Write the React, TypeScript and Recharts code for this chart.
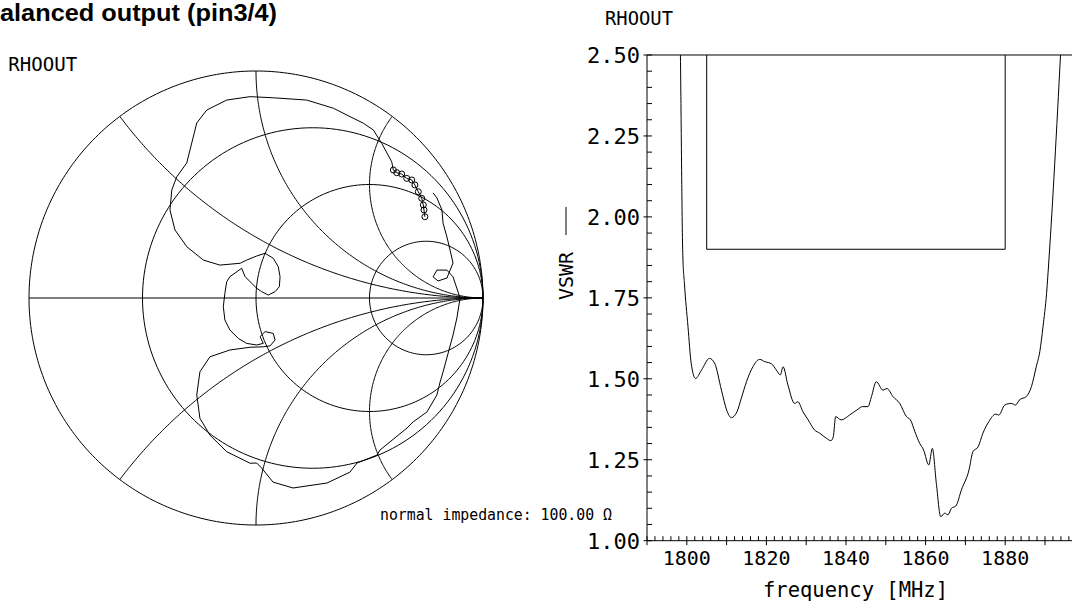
import React from 'react';
import { LineChart, Line, XAxis, YAxis, ReferenceLine } from 'recharts';

// RHOOUT locus on the Smith chart (reflection coefficient, real / imaginary part)
const locusRe = [
  0.744, 0.740, 0.737, 0.730, 0.715, 0.700, 0.686, 0.664, 0.642, 0.620, 0.605,
  0.598, 0.554, 0.517, 0.473, 0.414, 0.341, 0.223, 0.076, -0.026,
  -0.129, -0.217, -0.261, -0.283, -0.305, -0.349, -0.371, -0.379, -0.357, -0.305, -0.232, -0.159, -0.070,
  -0.041, 0.003, 0.040, 0.076, 0.098, 0.106, 0.103, 0.084, 0.054, 0.025, 0.003, -0.019, -0.048, -0.063,
  -0.115, -0.129, -0.137, -0.144, -0.137, -0.115, -0.078, -0.041, 0.003,
  0.032, 0.018, 0.040, 0.076, 0.084, 0.062, 0.032, -0.026,
  -0.115, -0.203, -0.247, -0.261, -0.247, -0.203, -0.129, -0.026,
  0.003, 0.025, 0.075, 0.163, 0.313, 0.414, 0.445, 0.533, 0.546,
  0.665, 0.692, 0.753, 0.797, 0.811, 0.824, 0.868, 0.885, 0.899,
  0.877, 0.868, 0.841, 0.797, 0.780, 0.802, 0.841,
  0.868, 0.855, 0.841, 0.824, 0.819, 0.797, 0.780,
];
const locusIm = [
  0.358, 0.388, 0.410, 0.439, 0.468, 0.498, 0.520, 0.527, 0.546, 0.552, 0.564,
  0.600, 0.681, 0.740, 0.770, 0.799, 0.836, 0.872, 0.882, 0.887,
  0.872, 0.828, 0.771, 0.683, 0.595, 0.534, 0.476, 0.388, 0.300, 0.226, 0.167, 0.145, 0.153,
  0.167, 0.185, 0.197, 0.175, 0.138, 0.094, 0.050, 0.028, 0.013, 0.028, 0.043, 0.065, 0.094, 0.131,
  0.094, 0.072, 0.021, -0.038, -0.097, -0.141, -0.178, -0.200, -0.207,
  -0.200, -0.170, -0.148, -0.156, -0.185, -0.211, -0.215, -0.217,
  -0.229, -0.259, -0.325, -0.427, -0.530, -0.604, -0.677, -0.728,
  -0.727, -0.749, -0.811, -0.837, -0.815, -0.767, -0.727, -0.692, -0.670,
  -0.573, -0.546, -0.502, -0.427, -0.370, -0.326, -0.163, -0.088, 0,
  0.066, 0.093, 0.123, 0.123, 0.093, 0.075, 0.088,
  0.154, 0.211, 0.269, 0.330, 0.388, 0.441, 0.463,
];
// the first points of the locus carry circle markers
const markerCount = 11;

// Smith chart grid
const resistanceCircles = [1 / 3, 1, 3];
const reactanceArcs = [0.5, 1, 2, -0.5, -1, -2];

// VSWR vs frequency
const freqMHz = [
  1798.0, 1798.4, 1799.0, 1799.4, 1800.3, 1801.1, 1802.2, 1803.7, 1805.7, 1807.0,
  1808.7, 1810.0, 1811.2, 1812.6, 1813.7, 1815.0, 1816.6, 1818.3, 1819.6, 1821.3,
  1822.5, 1823.5, 1824.2, 1825.4, 1827.1, 1827.9, 1829.2, 1830.5, 1832.1, 1833.4,
  1835.1, 1836.2, 1836.8, 1837.4, 1838.8, 1840.9, 1843.0, 1844.1, 1845.5, 1846.4,
  1847.6, 1849.3, 1850.3, 1851.8, 1853.5, 1855.2, 1856.2, 1857.3, 1858.5, 1859.5,
  1860.8, 1861.7, 1862.7, 1863.8, 1864.8, 1865.6, 1866.5, 1867.6, 1869.0, 1870.9,
  1871.9, 1873.2, 1874.4, 1875.9, 1877.6, 1878.4, 1879.9, 1881.5, 1882.6, 1883.6,
  1885.3, 1886.6, 1887.8, 1888.7, 1889.5, 1890.4, 1891.0, 1893.9, 1894.4,
];
const vswr = [
  2.92, 2.50, 1.88, 1.795, 1.661, 1.548, 1.501, 1.527, 1.563, 1.548,
  1.465, 1.404, 1.380, 1.398, 1.440, 1.491, 1.537, 1.560, 1.553, 1.546,
  1.527, 1.512, 1.537, 1.481, 1.424, 1.429, 1.398, 1.373, 1.342, 1.332,
  1.316, 1.309, 1.321, 1.383, 1.373, 1.388, 1.406, 1.414, 1.414, 1.445,
  1.491, 1.465, 1.470, 1.445, 1.424, 1.383, 1.373, 1.337, 1.301, 1.280,
  1.234, 1.285, 1.177, 1.074, 1.085, 1.080, 1.100, 1.107, 1.157, 1.218,
  1.275, 1.290, 1.332, 1.368, 1.391, 1.388, 1.419, 1.424, 1.419, 1.435,
  1.445, 1.476, 1.537, 1.584, 1.661, 1.764, 1.870, 2.500, 2.620,
];
// spec mask
const maskFreq = [1805, 1805, 1880, 1880];
const maskVswr = [2.5, 1.9, 1.9, 2.5];

const freqLabels = [1800, 1820, 1840, 1860, 1880];
const vswrLabels = ['1.00', '1.25', '1.50', '1.75', '2.00', '2.25', '2.50'];

const MONO = '"DejaVu Sans Mono", monospace';

type Pt = { re: number; im: number };

function arc(cx: number, cy: number, r: number, a0: number, a1: number, n = 180): Pt[] {
  const pts: Pt[] = [];
  for (let i = 0; i <= n; i++) {
    const a = a0 + ((a1 - a0) * i) / n;
    pts.push({ re: cx + r * Math.cos(a), im: cy + r * Math.sin(a) });
  }
  return pts;
}

const gridCurves: Pt[][] = [
  arc(0, 0, 1, 0, 2 * Math.PI, 360),
  [{ re: -1, im: 0 }, { re: 1, im: 0 }],
  ...resistanceCircles.map((r) => arc(r / (1 + r), 0, 1 / (1 + r), 0, 2 * Math.PI)),
  ...reactanceArcs.map((x) => {
    const ax = Math.abs(x);
    let a0 = Math.atan2((ax * ax - 1) / ax, -2);
    if (a0 < 0) a0 += 2 * Math.PI;
    const pts = arc(1, 1 / ax, 1 / ax, a0, 1.5 * Math.PI);
    return x < 0 ? pts.map((p) => ({ re: p.re, im: -p.im })) : pts;
  }),
];

const locus: Pt[] = locusRe.map((re, i) => ({ re, im: locusIm[i] }));
const markers = locus.slice(0, markerCount);

const vswrData = freqMHz.map((f, i) => ({ f, v: vswr[i] }));
const maskData = maskFreq.map((f, i) => ({ f, v: maskVswr[i] }));

const freqTicks: number[] = [];
for (let f = 1790; f <= 1900; f += 2) freqTicks.push(f);
const vswrTicks: number[] = [];
for (let i = 0; i <= 30; i++) vswrTicks.push(Math.round((1 + i * 0.05) * 100) / 100);

const FreqTick = (props: any) => {
  const { x, y, payload } = props;
  const v = payload.value;
  const long = v % 10 === 0;
  return (
    <g>
      <line x1={x} x2={x} y1={y - 4.5} y2={long ? y + 4.5 : y} stroke="#000" strokeWidth={1} />
      {freqLabels.includes(v) && (
        <text x={x} y={y + 24.5} textAnchor="middle" fontFamily={MONO} fontSize={20} fill="#000">
          {v}
        </text>
      )}
    </g>
  );
};

const VswrTick = (props: any) => {
  const { x, y, payload } = props;
  const label = payload.value.toFixed(2);
  const major = vswrLabels.includes(label);
  return (
    <g>
      <line x1={major ? x - 3.5 : x} x2={x + 5} y1={y} y2={y} stroke="#000" strokeWidth={1} />
      {major && (
        <text x={x - 7} y={y} dy="0.36em" textAnchor="end" fontFamily={MONO} fontSize={22} fill="#000">
          {label}
        </text>
      )}
    </g>
  );
};

function SmithChart() {
  return (
    <LineChart width={474} height={474} margin={{ top: 10, right: 10, bottom: 10, left: 10 }}>
      <XAxis type="number" dataKey="re" domain={[-1, 1]} hide />
      <YAxis type="number" dataKey="im" domain={[-1, 1]} hide />
      {gridCurves.map((d, i) => (
        <Line key={'g' + i} data={d} dataKey="im" stroke="#000" strokeWidth={1} dot={false} isAnimationActive={false} />
      ))}
      <Line data={locus} dataKey="im" stroke="#000" strokeWidth={1} dot={false} isAnimationActive={false} />
      <Line
        data={markers}
        dataKey="im"
        stroke="none"
        isAnimationActive={false}
        dot={(p: any) => <circle key={'m' + p.index} cx={p.cx} cy={p.cy} r={3} fill="none" stroke="#000" strokeWidth={1} />}
      />
    </LineChart>
  );
}

function VswrChart() {
  return (
    <LineChart width={527.8} height={565.7} margin={{ top: 20, right: 10, bottom: 0, left: 0 }}>
      <XAxis
        type="number"
        dataKey="f"
        domain={[1790, 1900]}
        ticks={freqTicks}
        interval={0}
        tickSize={0}
        tickMargin={0}
        tickLine={false}
        axisLine={{ stroke: '#000' }}
        tick={<FreqTick />}
        height={60}
        allowDataOverflow
      />
      <YAxis
        type="number"
        domain={[1, 2.5]}
        ticks={vswrTicks}
        interval={0}
        tickSize={0}
        tickMargin={0}
        tickLine={false}
        axisLine={{ stroke: '#000' }}
        tick={<VswrTick />}
        width={80}
        allowDataOverflow
      />
      <ReferenceLine y={2.5} stroke="#000" strokeWidth={1} />
      <Line data={maskData} dataKey="v" stroke="#000" strokeWidth={1} dot={false} isAnimationActive={false} />
      <Line data={vswrData} dataKey="v" type="monotone" stroke="#000" strokeWidth={1} dot={false} isAnimationActive={false} />
    </LineChart>
  );
}

export default function App() {
  return (
    <div style={{ position: 'absolute', left: 0, top: 0, width: 1072, height: 608, overflow: 'hidden', background: '#fff' }}>
      <div style={{ position: 'absolute', left: 19, top: 61 }}>
        <SmithChart />
      </div>
      <div style={{ position: 'absolute', left: 567.3, top: 35 }}>
        <VswrChart />
      </div>
      <svg width={1072} height={608} style={{ position: 'absolute', left: 0, top: 0, pointerEvents: 'none' }}>
        <text x={0} y={21.3} fontFamily='"Liberation Sans", Arial, sans-serif' fontWeight="bold" fontSize={23.5} textLength={277} lengthAdjust="spacingAndGlyphs" fill="#000">
          alanced output (pin3/4)
        </text>
        <text x={8.3} y={70.7} fontFamily={MONO} fontSize={19} textLength={69} lengthAdjust="spacingAndGlyphs" fill="#000">
          RHOOUT
        </text>
        <text x={605} y={25} fontFamily={MONO} fontSize={19} textLength={68} lengthAdjust="spacingAndGlyphs" fill="#000">
          RHOOUT
        </text>
        <text x={380} y={520} fontFamily={MONO} fontSize={15} textLength={232} lengthAdjust="spacingAndGlyphs" fill="#000">
          normal impedance: 100.00 Ω
        </text>
        <text x={763} y={597} fontFamily={MONO} fontSize={21} textLength={185} lengthAdjust="spacingAndGlyphs" fill="#000">
          frequency [MHz]
        </text>
        <g transform="translate(573 300) rotate(-90)">
          <text x={0} y={0} fontFamily={MONO} fontSize={20} fill="#000">
            VSWR
          </text>
          <line x1={65} x2={93} y1={-7} y2={-7} stroke="#000" strokeWidth={1} />
        </g>
      </svg>
    </div>
  );
}
